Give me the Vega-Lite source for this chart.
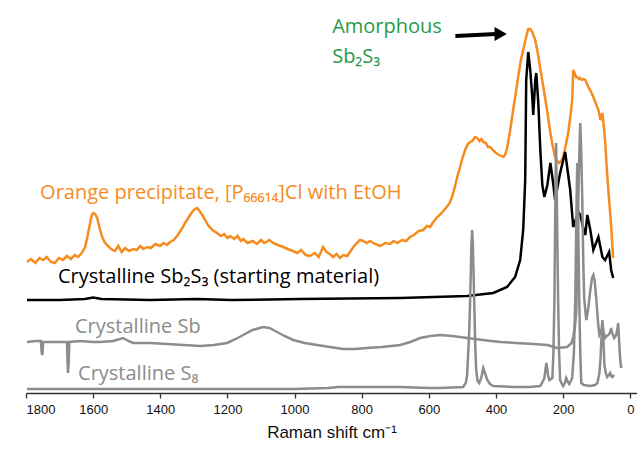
{
  "$schema": "https://vega.github.io/schema/vega-lite/v6.json",
  "width": 611,
  "height": 380,
  "autosize": {"type": "none"},
  "padding": {"left": 26, "top": 13, "right": 0, "bottom": 57},
  "background": "white",
  "config": {"view": {"stroke": null}},
  "datasets": {
    "spectra": [
      {"s":"orange","w":1797,"v":131},{"s":"orange","w":1785,"v":134},{"s":"orange","w":1772,"v":130},{"s":"orange","w":1760,"v":135},{"s":"orange","w":1749,"v":133},{"s":"orange","w":1738,"v":136},{"s":"orange","w":1726,"v":131},{"s":"orange","w":1714,"v":130},{"s":"orange","w":1702,"v":135},{"s":"orange","w":1690,"v":133},{"s":"orange","w":1678,"v":137},{"s":"orange","w":1666,"v":134},{"s":"orange","w":1655,"v":138},{"s":"orange","w":1645,"v":136},{"s":"orange","w":1634,"v":140},{"s":"orange","w":1624,"v":146},{"s":"orange","w":1616,"v":158},{"s":"orange","w":1609,"v":170},{"s":"orange","w":1604,"v":178},{"s":"orange","w":1600,"v":180},{"s":"orange","w":1594,"v":179},{"s":"orange","w":1588,"v":175},{"s":"orange","w":1580,"v":164},{"s":"orange","w":1573,"v":156},{"s":"orange","w":1566,"v":151},{"s":"orange","w":1559,"v":148},{"s":"orange","w":1547,"v":144},{"s":"orange","w":1535,"v":142},{"s":"orange","w":1525,"v":147},{"s":"orange","w":1515,"v":141},{"s":"orange","w":1505,"v":145},{"s":"orange","w":1493,"v":142},{"s":"orange","w":1481,"v":144},{"s":"orange","w":1470,"v":143},{"s":"orange","w":1460,"v":147},{"s":"orange","w":1450,"v":144},{"s":"orange","w":1439,"v":146},{"s":"orange","w":1428,"v":145},{"s":"orange","w":1415,"v":149},{"s":"orange","w":1401,"v":147},{"s":"orange","w":1390,"v":150},{"s":"orange","w":1380,"v":148},{"s":"orange","w":1371,"v":151},{"s":"orange","w":1360,"v":153},{"s":"orange","w":1350,"v":157},{"s":"orange","w":1338,"v":163},{"s":"orange","w":1326,"v":170},{"s":"orange","w":1315,"v":176},{"s":"orange","w":1305,"v":181},{"s":"orange","w":1297,"v":184},{"s":"orange","w":1290,"v":185},{"s":"orange","w":1283,"v":182},{"s":"orange","w":1275,"v":178},{"s":"orange","w":1266,"v":173},{"s":"orange","w":1258,"v":168},{"s":"orange","w":1245,"v":163},{"s":"orange","w":1231,"v":160},{"s":"orange","w":1220,"v":157},{"s":"orange","w":1210,"v":159},{"s":"orange","w":1200,"v":155},{"s":"orange","w":1192,"v":157},{"s":"orange","w":1180,"v":154},{"s":"orange","w":1170,"v":157},{"s":"orange","w":1160,"v":152},{"s":"orange","w":1153,"v":154},{"s":"orange","w":1140,"v":150},{"s":"orange","w":1125,"v":152},{"s":"orange","w":1112,"v":149},{"s":"orange","w":1100,"v":153},{"s":"orange","w":1090,"v":150},{"s":"orange","w":1075,"v":153},{"s":"orange","w":1064,"v":150},{"s":"orange","w":1050,"v":148},{"s":"orange","w":1034,"v":146},{"s":"orange","w":1020,"v":144},{"s":"orange","w":1005,"v":142},{"s":"orange","w":992,"v":140},{"s":"orange","w":980,"v":143},{"s":"orange","w":967,"v":138},{"s":"orange","w":954,"v":137},{"s":"orange","w":940,"v":140},{"s":"orange","w":928,"v":136},{"s":"orange","w":915,"v":146},{"s":"orange","w":905,"v":141},{"s":"orange","w":895,"v":139},{"s":"orange","w":885,"v":136},{"s":"orange","w":875,"v":139},{"s":"orange","w":865,"v":135},{"s":"orange","w":855,"v":138},{"s":"orange","w":843,"v":137},{"s":"orange","w":833,"v":142},{"s":"orange","w":825,"v":146},{"s":"orange","w":815,"v":150},{"s":"orange","w":805,"v":153},{"s":"orange","w":795,"v":152},{"s":"orange","w":785,"v":150},{"s":"orange","w":775,"v":152},{"s":"orange","w":760,"v":149},{"s":"orange","w":745,"v":147},{"s":"orange","w":730,"v":150},{"s":"orange","w":715,"v":149},{"s":"orange","w":705,"v":152},{"s":"orange","w":694,"v":150},{"s":"orange","w":680,"v":153},{"s":"orange","w":668,"v":152},{"s":"orange","w":656,"v":156},{"s":"orange","w":645,"v":158},{"s":"orange","w":630,"v":162},{"s":"orange","w":617,"v":163},{"s":"orange","w":605,"v":167},{"s":"orange","w":596,"v":166},{"s":"orange","w":587,"v":171},{"s":"orange","w":575,"v":176},{"s":"orange","w":565,"v":179},{"s":"orange","w":557,"v":182},{"s":"orange","w":547,"v":186},{"s":"orange","w":538,"v":190},{"s":"orange","w":530,"v":197},{"s":"orange","w":522,"v":207},{"s":"orange","w":514,"v":218},{"s":"orange","w":507,"v":226},{"s":"orange","w":500,"v":235},{"s":"orange","w":492,"v":243},{"s":"orange","w":484,"v":249},{"s":"orange","w":477,"v":251},{"s":"orange","w":470,"v":252},{"s":"orange","w":463,"v":256},{"s":"orange","w":456,"v":255},{"s":"orange","w":449,"v":252},{"s":"orange","w":443,"v":254},{"s":"orange","w":438,"v":251},{"s":"orange","w":430,"v":250},{"s":"orange","w":424,"v":246},{"s":"orange","w":417,"v":246},{"s":"orange","w":410,"v":243},{"s":"orange","w":403,"v":241},{"s":"orange","w":396,"v":239},{"s":"orange","w":390,"v":238},{"s":"orange","w":384,"v":237},{"s":"orange","w":378,"v":236},{"s":"orange","w":373,"v":238},{"s":"orange","w":367,"v":245},{"s":"orange","w":358,"v":262},{"s":"orange","w":349,"v":283},{"s":"orange","w":341,"v":300},{"s":"orange","w":334,"v":316},{"s":"orange","w":326,"v":333},{"s":"orange","w":319,"v":343},{"s":"orange","w":311,"v":355},{"s":"orange","w":304,"v":364},{"s":"orange","w":298,"v":364},{"s":"orange","w":292,"v":361},{"s":"orange","w":284,"v":354},{"s":"orange","w":277,"v":343},{"s":"orange","w":268,"v":324},{"s":"orange","w":259,"v":306},{"s":"orange","w":248,"v":283},{"s":"orange","w":238,"v":260},{"s":"orange","w":231,"v":247},{"s":"orange","w":224,"v":236},{"s":"orange","w":218,"v":232},{"s":"orange","w":212,"v":230},{"s":"orange","w":206,"v":232},{"s":"orange","w":200,"v":236},{"s":"orange","w":192,"v":248},{"s":"orange","w":185,"v":260},{"s":"orange","w":178,"v":278},{"s":"orange","w":173,"v":293},{"s":"orange","w":170,"v":323},{"s":"orange","w":166,"v":320},{"s":"orange","w":162,"v":316},{"s":"orange","w":158,"v":316},{"s":"orange","w":153,"v":314},{"s":"orange","w":149,"v":315},{"s":"orange","w":144,"v":313},{"s":"orange","w":139,"v":314},{"s":"orange","w":134,"v":313},{"s":"orange","w":130,"v":310},{"s":"orange","w":125,"v":306},{"s":"orange","w":118,"v":302},{"s":"orange","w":110,"v":296},{"s":"orange","w":102,"v":289},{"s":"orange","w":95,"v":283},{"s":"orange","w":91,"v":277},{"s":"orange","w":89,"v":273},{"s":"orange","w":86,"v":276},{"s":"orange","w":83,"v":280},{"s":"orange","w":80,"v":270},{"s":"orange","w":75,"v":253},{"s":"orange","w":71,"v":230},{"s":"orange","w":66,"v":205},{"s":"orange","w":58,"v":172},{"s":"orange","w":51,"v":135},
      {"s":"black","w":1797,"v":93},{"s":"black","w":1700,"v":93},{"s":"black","w":1625,"v":94},{"s":"black","w":1600,"v":95.5},{"s":"black","w":1575,"v":94},{"s":"black","w":1430,"v":93},{"s":"black","w":1290,"v":94},{"s":"black","w":1190,"v":93},{"s":"black","w":985,"v":94},{"s":"black","w":685,"v":95},{"s":"black","w":486,"v":97},{"s":"black","w":408,"v":100},{"s":"black","w":367,"v":106},{"s":"black","w":343,"v":116},{"s":"black","w":328,"v":133},{"s":"black","w":319,"v":163},{"s":"black","w":313,"v":213},{"s":"black","w":310,"v":313},{"s":"black","w":304,"v":341},{"s":"black","w":298,"v":323},{"s":"black","w":292,"v":296},{"s":"black","w":289,"v":278},{"s":"black","w":283,"v":313},{"s":"black","w":280,"v":320},{"s":"black","w":274,"v":290},{"s":"black","w":268,"v":243},{"s":"black","w":262,"v":208},{"s":"black","w":256,"v":196},{"s":"black","w":247,"v":208},{"s":"black","w":238,"v":230},{"s":"black","w":229,"v":208},{"s":"black","w":224,"v":193},{"s":"black","w":209,"v":220},{"s":"black","w":194,"v":241},{"s":"black","w":179,"v":203},{"s":"black","w":170,"v":166},{"s":"black","w":155,"v":181},{"s":"black","w":149,"v":178},{"s":"black","w":140,"v":165},{"s":"black","w":134,"v":158},{"s":"black","w":128,"v":178},{"s":"black","w":119,"v":163},{"s":"black","w":110,"v":143},{"s":"black","w":95,"v":156},{"s":"black","w":83,"v":136},{"s":"black","w":75,"v":133},{"s":"black","w":63,"v":141},{"s":"black","w":57,"v":123},{"s":"black","w":51,"v":115},
      {"s":"sb","w":1797,"v":51},{"s":"sb","w":1770,"v":52},{"s":"sb","w":1756,"v":52},{"s":"sb","w":1753,"v":40},{"s":"sb","w":1751,"v":38},{"s":"sb","w":1749,"v":51},{"s":"sb","w":1720,"v":51},{"s":"sb","w":1684,"v":51},{"s":"sb","w":1678,"v":51},{"s":"sb","w":1676,"v":30},{"s":"sb","w":1675,"v":20},{"s":"sb","w":1673,"v":30},{"s":"sb","w":1671,"v":51},{"s":"sb","w":1640,"v":52},{"s":"sb","w":1600,"v":51},{"s":"sb","w":1579,"v":51},{"s":"sb","w":1540,"v":52},{"s":"sb","w":1511,"v":55},{"s":"sb","w":1495,"v":52},{"s":"sb","w":1481,"v":50},{"s":"sb","w":1430,"v":50},{"s":"sb","w":1380,"v":49},{"s":"sb","w":1330,"v":48},{"s":"sb","w":1281,"v":47},{"s":"sb","w":1240,"v":48},{"s":"sb","w":1201,"v":50},{"s":"sb","w":1175,"v":54},{"s":"sb","w":1153,"v":58},{"s":"sb","w":1125,"v":63},{"s":"sb","w":1094,"v":66},{"s":"sb","w":1075,"v":65},{"s":"sb","w":1052,"v":61},{"s":"sb","w":1030,"v":57},{"s":"sb","w":1004,"v":53},{"s":"sb","w":970,"v":50},{"s":"sb","w":933,"v":48},{"s":"sb","w":895,"v":46},{"s":"sb","w":855,"v":44},{"s":"sb","w":820,"v":44},{"s":"sb","w":784,"v":45},{"s":"sb","w":740,"v":46},{"s":"sb","w":685,"v":48},{"s":"sb","w":655,"v":51},{"s":"sb","w":626,"v":55},{"s":"sb","w":595,"v":57},{"s":"sb","w":566,"v":58},{"s":"sb","w":530,"v":57},{"s":"sb","w":486,"v":55},{"s":"sb","w":440,"v":53},{"s":"sb","w":387,"v":51},{"s":"sb","w":340,"v":50},{"s":"sb","w":289,"v":49},{"s":"sb","w":247,"v":48},{"s":"sb","w":218,"v":45},{"s":"sb","w":188,"v":46},{"s":"sb","w":175,"v":50},{"s":"sb","w":170,"v":56},{"s":"sb","w":165,"v":66},{"s":"sb","w":161,"v":80},{"s":"sb","w":158,"v":130},{"s":"sb","w":155,"v":193},{"s":"sb","w":151,"v":250},{"s":"sb","w":149,"v":270},{"s":"sb","w":146,"v":240},{"s":"sb","w":143,"v":193},{"s":"sb","w":140,"v":130},{"s":"sb","w":137,"v":93},{"s":"sb","w":131,"v":73},{"s":"sb","w":125,"v":85},{"s":"sb","w":119,"v":103},{"s":"sb","w":114,"v":115},{"s":"sb","w":110,"v":118},{"s":"sb","w":106,"v":112},{"s":"sb","w":101,"v":93},{"s":"sb","w":96,"v":70},{"s":"sb","w":92,"v":58},{"s":"sb","w":86,"v":62},{"s":"sb","w":83,"v":70},{"s":"sb","w":80,"v":62},{"s":"sb","w":75,"v":55},{"s":"sb","w":70,"v":57},{"s":"sb","w":66,"v":58},{"s":"sb","w":61,"v":60},{"s":"sb","w":57,"v":65},{"s":"sb","w":54,"v":60},{"s":"sb","w":48,"v":55},{"s":"sb","w":42,"v":58},{"s":"sb","w":38,"v":65},{"s":"sb","w":36,"v":70},{"s":"sb","w":33,"v":50},{"s":"sb","w":30,"v":33},{"s":"sb","w":27,"v":25},
      {"s":"s8","w":1797,"v":4},{"s":"s8","w":1600,"v":4},{"s":"s8","w":1400,"v":4},{"s":"s8","w":1200,"v":4},{"s":"s8","w":1000,"v":4},{"s":"s8","w":900,"v":5},{"s":"s8","w":870,"v":6},{"s":"s8","w":800,"v":6},{"s":"s8","w":685,"v":6},{"s":"s8","w":600,"v":5},{"s":"s8","w":566,"v":5},{"s":"s8","w":498,"v":6},{"s":"s8","w":490,"v":10},{"s":"s8","w":486,"v":18},{"s":"s8","w":480,"v":60},{"s":"s8","w":477,"v":93},{"s":"s8","w":473,"v":150},{"s":"s8","w":471,"v":163},{"s":"s8","w":469,"v":150},{"s":"s8","w":465,"v":93},{"s":"s8","w":462,"v":50},{"s":"s8","w":459,"v":23},{"s":"s8","w":455,"v":12},{"s":"s8","w":450,"v":10},{"s":"s8","w":444,"v":15},{"s":"s8","w":438,"v":25},{"s":"s8","w":433,"v":20},{"s":"s8","w":426,"v":13},{"s":"s8","w":418,"v":9},{"s":"s8","w":408,"v":7},{"s":"s8","w":350,"v":6},{"s":"s8","w":300,"v":6},{"s":"s8","w":268,"v":7},{"s":"s8","w":260,"v":12},{"s":"s8","w":256,"v":15},{"s":"s8","w":250,"v":30},{"s":"s8","w":245,"v":18},{"s":"s8","w":241,"v":13},{"s":"s8","w":236,"v":14},{"s":"s8","w":232,"v":15},{"s":"s8","w":229,"v":40},{"s":"s8","w":226,"v":93},{"s":"s8","w":223,"v":200},{"s":"s8","w":221,"v":250},{"s":"s8","w":219,"v":200},{"s":"s8","w":215,"v":93},{"s":"s8","w":212,"v":40},{"s":"s8","w":209,"v":13},{"s":"s8","w":204,"v":9},{"s":"s8","w":200,"v":7},{"s":"s8","w":195,"v":10},{"s":"s8","w":191,"v":15},{"s":"s8","w":186,"v":11},{"s":"s8","w":182,"v":9},{"s":"s8","w":177,"v":12},{"s":"s8","w":173,"v":15},{"s":"s8","w":168,"v":40},{"s":"s8","w":164,"v":93},{"s":"s8","w":160,"v":190},{"s":"s8","w":158,"v":230},{"s":"s8","w":156,"v":190},{"s":"s8","w":152,"v":93},{"s":"s8","w":149,"v":40},{"s":"s8","w":146,"v":10},{"s":"s8","w":138,"v":8},{"s":"s8","w":119,"v":7},{"s":"s8","w":105,"v":8},{"s":"s8","w":98,"v":10},{"s":"s8","w":92,"v":20},{"s":"s8","w":89,"v":33},{"s":"s8","w":85,"v":60},{"s":"s8","w":83,"v":73},{"s":"s8","w":81,"v":60},{"s":"s8","w":77,"v":28},{"s":"s8","w":73,"v":20},{"s":"s8","w":69,"v":16},{"s":"s8","w":64,"v":18},{"s":"s8","w":60,"v":20},{"s":"s8","w":57,"v":17},{"s":"s8","w":54,"v":16},{"s":"s8","w":48,"v":18}
    ],
    "labels": [
      {"s":"orange","t":"Orange precipitate, [P₆₆₆₁₄]Cl with EtOH","w":1758,"v":194},
      {"s":"black","t":"Crystalline Sb₂S₃ (starting material)","w":1705,"v":110},
      {"s":"sb","t":"Crystalline Sb","w":1654,"v":60},
      {"s":"s8","t":"Crystalline S₈","w":1645,"v":13},
      {"s":"green","t":"Amorphous","w":888,"v":360},
      {"s":"green","t":"Sb₂S₃","w":888,"v":330}
    ],
    "arrow": [
      {"w":521,"v":357,"w2":400,"v2":359}
    ],
    "arrowhead": [
      {"w":386,"v":359}
    ]
  },
  "layer": [
    {
      "data": {"name": "spectra"},
      "mark": {"type": "line", "strokeWidth": 2.5, "clip": true},
      "encoding": {
        "x": {
          "field": "w", "type": "quantitative",
          "scale": {"domain": [1800, -20], "nice": false, "zero": false},
          "axis": {
            "values": [1800,1700,1600,1500,1400,1300,1200,1100,1000,900,800,700,600,500,400,300,200,100,0],
            "labelExpr": "datum.value % 200 === 0 ? datum.label : ''",
            "format": "d",
            "tickSize": {"condition": {"test": "datum.value % 200 === 0", "value": 5}, "value": 3},
            "grid": false,
            "domainColor": "#333333",
            "tickColor": "#333333",
            "domainWidth": 1.3,
            "tickWidth": 1.3,
            "labelFont": "Liberation Sans",
            "labelFontSize": 13,
            "labelColor": "#111111",
            "labelPadding": 5,
            "title": "Raman shift cm⁻¹",
            "titleFont": "Liberation Sans",
            "titleFontSize": 17,
            "titleFontWeight": "normal",
            "titleColor": "#111111",
            "titlePadding": 8
          }
        },
        "y": {"field": "v", "type": "quantitative", "scale": {"domain": [0, 380], "nice": false, "zero": false}, "axis": null},
        "color": {
          "field": "s", "type": "nominal",
          "scale": {"domain": ["orange","black","sb","s8","green"], "range": ["#F68B1F","#000000","#8C8C8C","#8C8C8C","#2A9A47"]},
          "legend": null
        }
      }
    },
    {
      "data": {"name": "labels"},
      "mark": {"type": "text", "align": "left", "baseline": "alphabetic", "font": "Open Sans", "fontSize": 20},
      "encoding": {
        "x": {"field": "w", "type": "quantitative"},
        "y": {"field": "v", "type": "quantitative"},
        "text": {"field": "t"},
        "color": {"field": "s", "type": "nominal", "scale": {"domain": ["orange","black","sb","s8","green"], "range": ["#F68B1F","#000000","#8C8C8C","#8C8C8C","#2A9A47"]}, "legend": null}
      }
    },
    {
      "data": {"name": "arrow"},
      "mark": {"type": "rule", "color": "#000000", "strokeWidth": 4},
      "encoding": {
        "x": {"field": "w", "type": "quantitative"},
        "y": {"field": "v", "type": "quantitative"},
        "x2": {"field": "w2"},
        "y2": {"field": "v2"}
      }
    },
    {
      "data": {"name": "arrowhead"},
      "mark": {"type": "point", "shape": "triangle-right", "filled": true, "color": "#000000", "size": 200, "opacity": 1},
      "encoding": {
        "x": {"field": "w", "type": "quantitative"},
        "y": {"field": "v", "type": "quantitative"}
      }
    }
  ]
}
